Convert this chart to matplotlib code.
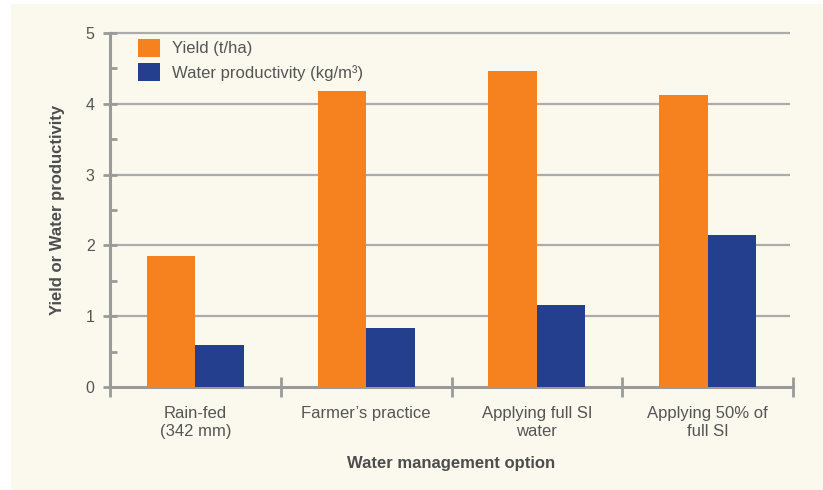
import matplotlib
matplotlib.use('Agg')
import matplotlib.pyplot as plt
import numpy as np
from matplotlib.patches import Rectangle

# data
categories = ['Rain-fed\n(342 mm)', 'Farmer\u2019s practice', 'Applying full SI\nwater', 'Applying 50% of\nfull SI']
yield_t_ha = [1.85, 4.18, 4.46, 4.12]
water_prod = [0.59, 0.83, 1.16, 2.15]

plt.rcParams['font.family'] = ['Liberation Sans', 'DejaVu Sans']

colors = {'yield': '#F5821F', 'water': '#243F8E'}
axis_color = '#9A9A9A'
text_color = '#555555'

fig = plt.figure(figsize=(8.23, 4.90), dpi=100)
fig.patch.set_facecolor('white')
# cream panel behind everything
fig.patches.append(Rectangle((11 / 823, 0), 1 - 11 / 823, 1 - 4 / 490, transform=fig.transFigure,
                             facecolor='#FBF8EE', edgecolor='none', zorder=-10))

ax = fig.add_axes([110 / 823, 1 - 387 / 490, (793 - 110) / 823, (387 - 33) / 490])
ax.set_facecolor('none')

x = np.arange(len(categories))
w = 0.284
ax.bar(x - w / 2, yield_t_ha, w, color=colors['yield'], label='Yield (t/ha)', zorder=3)
ax.bar(x + w / 2, water_prod, w, color=colors['water'], label='Water productivity (kg/m\u00b3)', zorder=3)

ax.set_xlim(-0.5, 3.5)
ax.set_ylim(0, 5)

# grid lines
for v in [1, 2, 3, 4, 5]:
    ax.plot([-0.5, 3.48], [v, v], color='#ABABAB', linewidth=1.6, zorder=1, solid_capstyle='butt',
            clip_on=False)

for s in ['top', 'right']:
    ax.spines[s].set_visible(False)
for s in ['left', 'bottom']:
    ax.spines[s].set_color(axis_color)
    ax.spines[s].set_linewidth(2.2)

ax.set_yticks([0, 1, 2, 3, 4, 5])
ax.set_yticks([0.5, 1.5, 2.5, 3.5, 4.5], minor=True)
ax.tick_params(axis='y', which='major', direction='inout', length=10, width=2, color=axis_color,
               labelsize=11.5, labelcolor=text_color, pad=6)
ax.tick_params(axis='y', which='minor', direction='in', length=5, width=2, color=axis_color)

ax.set_xticks(x)
ax.set_xticklabels(categories, linespacing=1.25)
ax.set_xticks([-0.5, 0.5, 1.5, 2.5, 3.5], minor=True)
ax.tick_params(axis='x', which='major', length=0, labelsize=12, labelcolor=text_color, pad=14)
ax.tick_params(axis='x', which='minor', direction='inout', length=14, width=2, color=axis_color)

ax.set_ylabel('Yield or Water productivity', fontsize=12, fontweight='bold', color='#4D4D4D', labelpad=15)
ax.set_xlabel('Water management option', fontsize=12, fontweight='bold', color='#4D4D4D', labelpad=12)

ax.legend(loc='upper left', bbox_to_anchor=(0.027, 1.012), frameon=False, fontsize=12,
          handlelength=1.3, handleheight=1.3, handletextpad=0.7, labelspacing=0.38,
          labelcolor=text_color, borderaxespad=0.2)

plt.savefig('out.png', dpi=100)
